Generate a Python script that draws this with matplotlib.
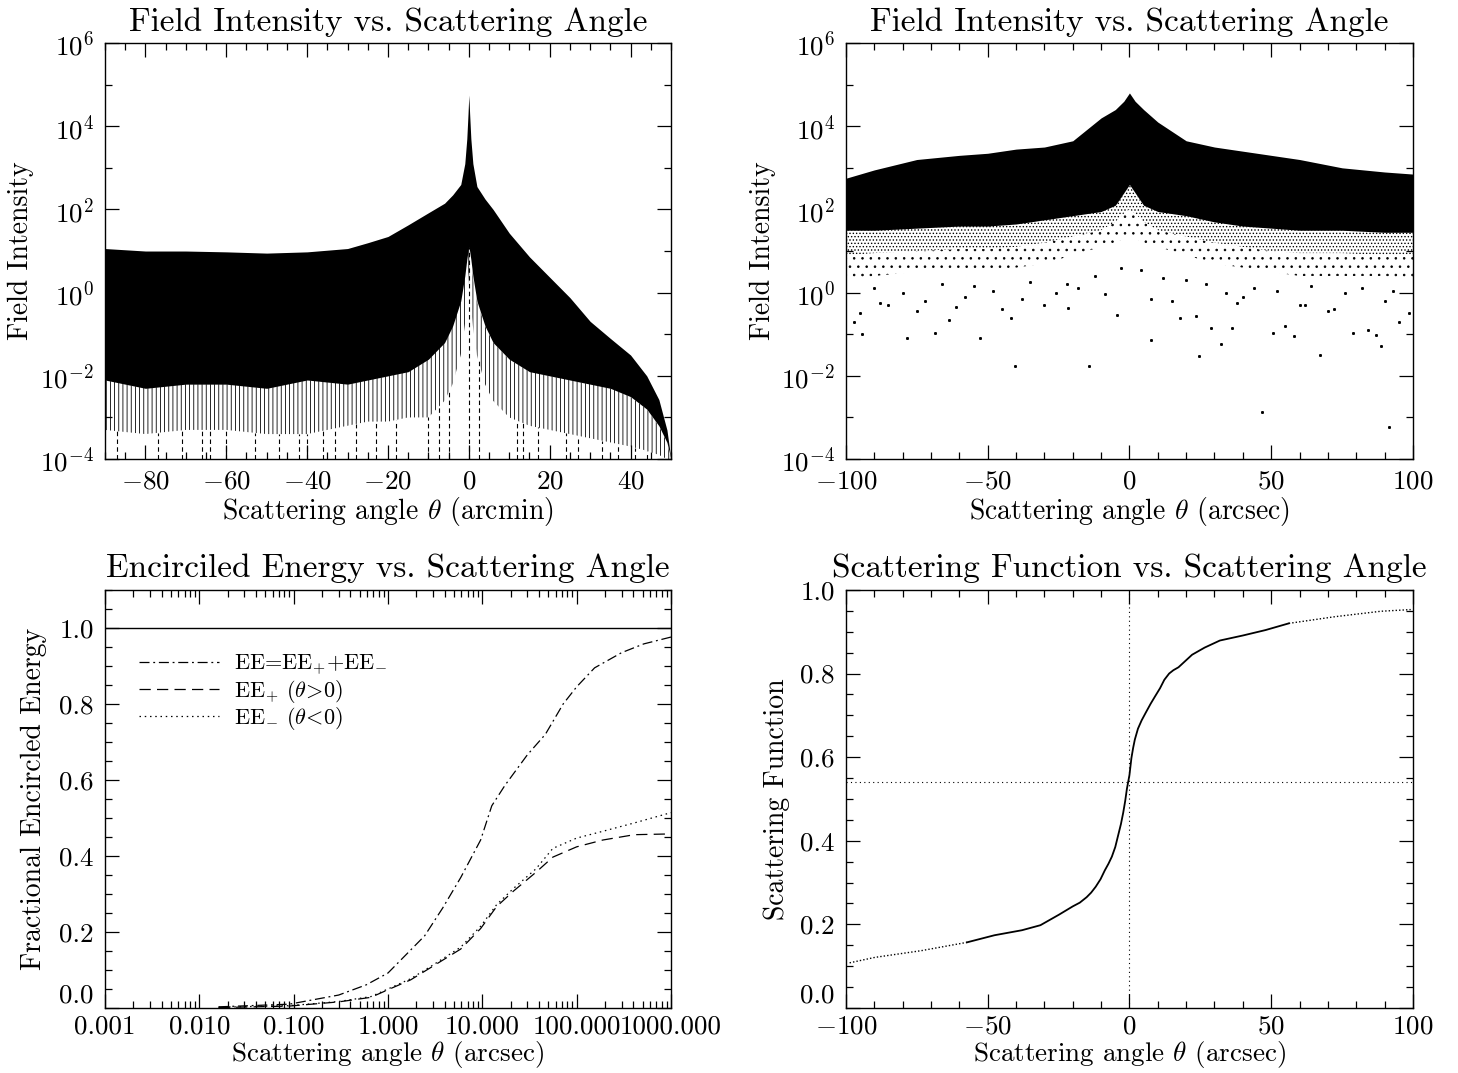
import numpy as np
import matplotlib
matplotlib.use("Agg")
import matplotlib.pyplot as plt
from matplotlib.ticker import FixedLocator, FixedFormatter, NullFormatter

plt.rcParams['font.family'] = ['cmr10', 'DejaVu Serif']
plt.rcParams['mathtext.fontset'] = 'cm'
plt.rcParams['axes.unicode_minus'] = False
plt.rcParams['hatch.linewidth'] = 0.6

# ---------------- Data: top-left (arcmin) envelopes, log10 intensity ----------------
tl_x = [-90, -80, -70, -60, -50, -40, -30, -25, -20, -15, -10, -6, -4, -2, -1, -0.5, -0.2, 0,
        0.2, 0.5, 1, 2, 4, 6, 10, 15, 20, 25, 30, 35, 40, 44, 47, 49, 50]
tl_upper = [1.06, 1.0, 1.0, 0.98, 0.95, 0.98, 1.06, 1.2, 1.35, 1.63, 1.92, 2.15, 2.35, 2.6, 3.1, 3.7, 4.3, 4.75,
            4.3, 3.7, 3.1, 2.55, 2.25, 2.0, 1.43, 0.86, 0.37, -0.12, -0.69, -1.1, -1.5, -2.0, -2.57, -3.3, -4.0]
tl_lower = [-2.1, -2.3, -2.2, -2.2, -2.3, -2.1, -2.2, -2.1, -2.0, -1.9, -1.6, -1.2, -0.8, -0.2, 0.4, 0.8, 1.0, 1.1,
            1.0, 0.8, 0.4, -0.2, -0.8, -1.2, -1.6, -1.9, -2.0, -2.1, -2.2, -2.3, -2.5, -2.8, -3.2, -3.6, -4.0]
tl_fringe = [-3.3, -3.4, -3.3, -3.3, -3.4, -3.4, -3.2, -3.1, -3.1, -3.0, -3.0, -2.6, -2.2, -1.5, -0.8, -0.3, 0.2, 0.5,
             0.2, -0.3, -0.8, -1.5, -2.2, -2.6, -3.0, -3.2, -3.3, -3.4, -3.5, -3.6, -3.7, -3.8, -3.9, -4.0, -4.0]
tl_spikes_x = [-87, -77, -71, -66, -64, -60, -53, -47, -42, -40, -36, -33, -28, -23, -18, -10, -7.5, -5,
               0, 2.4, 12, 13.5, 17, 24, 27, 33, 37, 41, 44]

# ---------------- Data: top-right (arcsec) ----------------
tr_x = [-100, -90, -75, -60, -50, -40, -30, -20, -10, -5, -2, 0, 2, 5, 10, 20, 30, 40, 50, 60, 75, 90, 100]
tr_upper = [2.75, 2.95, 3.2, 3.3, 3.35, 3.45, 3.5, 3.65, 4.2, 4.4, 4.6, 4.8, 4.6, 4.4, 4.1, 3.65, 3.5, 3.4, 3.3,
            3.2, 3.0, 2.9, 2.85]
tr_dense = [1.5, 1.5, 1.55, 1.6, 1.6, 1.65, 1.75, 1.85, 1.95, 2.1, 2.4, 2.6, 2.4, 2.1, 1.95, 1.85, 1.7, 1.6, 1.55,
            1.5, 1.5, 1.45, 1.45]
tr_mid = [0.9, 0.95, 1.0, 1.05, 1.05, 1.1, 1.2, 1.35, 1.5, 1.7, 1.9, 2.0, 1.9, 1.7, 1.5, 1.35, 1.2, 1.1, 1.0,
          0.95, 0.95, 0.9, 0.9]
tr_speckle = [0.3, 0.4, 0.5, 0.5, 0.5, 0.6, 0.7, 0.9, 1.1, 1.2, 1.3, 1.4, 1.3, 1.2, 1.1, 0.9, 0.7, 0.6, 0.5,
              0.4, 0.4, 0.4, 0.3]
tr_pts_x = [-40.2, -14.3, 46.6, 91.6, 24.7, 67.3, 32.3, 88.7, -78.3, -52.7, 7.6, -94.2, -68.6, 50.6, 57.9, 79.0,
            87.0, -63.7, -41.8, -4.5, -21.6, 7.6, 23.5, 28.7, 36.0, 98.5, -94.9, -8.6, -85, -72, -58, -30,
            -18, 15, 40, 62, 72, 95, -97, -45, -26, 18, 55, 84, -90, -80, -66, -55, -48, -35, -12, -3, 4,
            12, 27, 34, 44, 52, 64, 76, 82, 93, -88, -75, -61, -38, -22, 20, 38, 60, 70, 90]
tr_pts_y = [-1.77, -1.76, -2.88, -3.24, -1.53, -1.51, -1.23, -1.28, -1.10, -1.09, -1.14, -1.00, -0.96, -0.98,
            -1.04, -0.98, -1.02, -0.65, -0.61, -0.53, -0.38, -0.15, -0.57, -0.86, -0.86, -0.49, -0.49, -0.04,
            -0.3, -0.2, -0.1, -0.3, 0.1, -0.2, -0.1, -0.3, -0.4, -0.7, -0.7, -0.4, 0.0, -0.6, -0.8, -0.9,
            0.1, 0.0, 0.2, 0.15, 0.05, 0.25, 0.4, 0.6, 0.55, 0.35, 0.2, 0.0, 0.1, 0.05, 0.15, 0.0, 0.1, 0.05,
            -0.25, -0.45, -0.35, -0.15, 0.2, 0.3, -0.25, -0.3, -0.45, -0.2]

# ---------------- Data: bottom-left (encircled energy) ----------------
ee_x = [0.016, 0.09, 0.3, 0.59, 1.0, 1.58, 2.45, 3.8, 5.9, 9.6, 12.6, 17.4, 30, 46.6, 72, 100, 155, 300, 515, 1000]
ee_tot = [0.003, 0.01, 0.034, 0.061, 0.092, 0.142, 0.19, 0.263, 0.343, 0.442, 0.532, 0.586, 0.666, 0.72, 0.80,
          0.845, 0.895, 0.935, 0.958, 0.976]
eep_x = [0.016, 0.09, 0.3, 0.66, 1.0, 1.74, 3.0, 5.9, 9.6, 14.2, 21.5, 37, 56, 100, 190, 410, 1000]
ee_plus = [0.001, 0.005, 0.016, 0.028, 0.048, 0.074, 0.11, 0.155, 0.209, 0.267, 0.308, 0.357, 0.397, 0.424,
           0.442, 0.456, 0.458]
ee_minus = [0.002, 0.006, 0.017, 0.030, 0.050, 0.077, 0.113, 0.16, 0.215, 0.272, 0.315, 0.366, 0.42, 0.447,
            0.465, 0.487, 0.514]

# ---------------- Data: bottom-right (scattering function) ----------------
sf_x = [-98.7, -89.8, -73.5, -57.3, -47.6, -37.9, -31.4, -24.9, -20, -17.5, -15.1, -13.5, -11.9, -10.2, -8.7,
        -7.4, -6.2, -5.0, -3.8, -3.0, -2.2, -1.5, -0.9, 0, 0.7, 1.3, 1.9, 3.0, 4.3, 5.8, 7.5, 9.0, 10.8, 12.3,
        14, 15.5, 17.3, 22.1, 26.5, 31.9, 40, 48, 56.2, 72.5, 88.7, 99.2]
sf_y = [0.108, 0.121, 0.137, 0.157, 0.174, 0.186, 0.198, 0.223, 0.243, 0.252, 0.265, 0.276, 0.29, 0.308, 0.329,
        0.345, 0.362, 0.385, 0.418, 0.44, 0.467, 0.495, 0.524, 0.557, 0.598, 0.622, 0.642, 0.668, 0.688, 0.707,
        0.728, 0.745, 0.765, 0.785, 0.80, 0.808, 0.815, 0.845, 0.862, 0.879, 0.891, 0.904, 0.92, 0.936,
        0.949, 0.953]
sf_median = 0.54

TITLE_FS = 24
LABEL_FS = 20
TICK_FS = 19.5

fig = plt.figure(figsize=(14.58, 10.73), dpi=100)
ax_tl = fig.add_axes([0.0720, 0.5722, 0.3882, 0.3877])
ax_tr = fig.add_axes([0.5802, 0.5722, 0.3889, 0.3877])
ax_bl = fig.add_axes([0.0720, 0.0606, 0.3882, 0.3896])
ax_br = fig.add_axes([0.5802, 0.0606, 0.3889, 0.3896])


def style(ax, xpad=8):
    ax.tick_params(which='both', direction='in', top=True, right=True, labelsize=TICK_FS, pad=8)
    ax.tick_params(axis='x', which='both', pad=xpad)
    ax.tick_params(which='major', length=10, width=0.9)
    ax.tick_params(which='minor', length=5, width=0.9)
    for s in ax.spines.values():
        s.set_linewidth(1.0)


def raise_first_ylabel(ax):
    # the lowest y tick label sits above the axis corner, as in the original
    ax.yaxis.get_major_ticks()[0].label1.set_verticalalignment('bottom')


def log_y(ax):
    ax.set_yscale('log')
    ax.set_ylim(1e-4, 1e6)
    maj = [1e-4, 1e-2, 1e0, 1e2, 1e4, 1e6]
    ax.yaxis.set_major_locator(FixedLocator(maj))
    ax.yaxis.set_major_formatter(FixedFormatter([r'$10^{-4}$', r'$10^{-2}$', r'$10^{0}$', r'$10^{2}$',
                                                 r'$10^{4}$', r'$10^{6}$']))
    ax.yaxis.set_minor_locator(FixedLocator([1e-3, 1e-1, 1e1, 1e3, 1e5]))
    ax.yaxis.set_minor_formatter(NullFormatter())


def labels(ax, title, xlabel, ylabel, ycoord, xpad, lfs=LABEL_FS):
    ax.set_title(title, fontsize=TITLE_FS, pad=9)
    ax.set_xlabel(xlabel, fontsize=lfs, labelpad=xpad)
    ax.set_ylabel(ylabel, fontsize=LABEL_FS)
    ax.yaxis.set_label_coords(ycoord, 0.5)


# ---- top-left
ax = ax_tl
x = np.array(tl_x)
up = 10 ** np.array(tl_upper)
lo = 10 ** np.array(tl_lower)
fr = 10 ** np.array(tl_fringe)
ax.fill_between(x, fr, lo, facecolor='white', edgecolor='black', hatch='||||', linewidth=0)
ax.fill_between(x, lo, up, color='black', linewidth=0)
for sx in tl_spikes_x:
    top = 10 ** np.interp(sx, tl_x, tl_fringe)
    if sx == 0:
        top = 10 ** np.interp(sx, tl_x, tl_lower)
    ax.plot([sx, sx], [1e-4, top], color='black', lw=0.8, ls=(0, (4, 3)))
log_y(ax)
ax.set_xlim(-90, 50)
ax.xaxis.set_major_locator(FixedLocator([-80, -60, -40, -20, 0, 20, 40]))
ax.xaxis.set_major_formatter(FixedFormatter([r'$-80$', r'$-60$', r'$-40$', r'$-20$', r'$0$', r'$20$', r'$40$']))
ax.xaxis.set_minor_locator(FixedLocator(np.arange(-90, 51, 5)))
style(ax)
labels(ax, 'Field Intensity vs. Scattering Angle', r'Scattering angle $\theta$ (arcmin)', 'Field Intensity',
       -0.125, 1)

# ---- top-right
ax = ax_tr
x = np.array(tr_x)
ax.fill_between(x, 10 ** np.array(tr_speckle), 10 ** np.array(tr_mid), facecolor='white', edgecolor='black',
                hatch='..', linewidth=0)
ax.fill_between(x, 10 ** np.array(tr_mid), 10 ** np.array(tr_dense), facecolor='white', edgecolor='black',
                hatch='.....', linewidth=0)
ax.fill_between(x, 10 ** np.array(tr_dense), 10 ** np.array(tr_upper), color='black', linewidth=0)
ax.plot(tr_pts_x, 10 ** np.array(tr_pts_y), ls='none', marker='s', ms=1.1, color='black')
log_y(ax)
ax.set_xlim(-100, 100)
ax.xaxis.set_major_locator(FixedLocator([-100, -50, 0, 50, 100]))
ax.xaxis.set_major_formatter(FixedFormatter([r'$-100$', r'$-50$', r'$0$', r'$50$', r'$100$']))
ax.xaxis.set_minor_locator(FixedLocator(np.arange(-100, 101, 10)))
style(ax)
labels(ax, 'Field Intensity vs. Scattering Angle', r'Scattering angle $\theta$ (arcsec)', 'Field Intensity',
       -0.123, 1)

# ---- bottom-left
ax = ax_bl
ax.axhline(1.0, color='black', lw=1.0)
ax.plot(ee_x, ee_tot, color='black', lw=0.9, ls=(0, (8, 3, 1.5, 3)), label=r'EE=EE$_{+}$+EE$_{-}$')
ax.plot(eep_x, ee_plus, color='black', lw=0.9, ls=(0, (9, 5)), label=r'EE$_{+}$ $(\theta\!>\!0)$')
ax.plot(eep_x, ee_minus, color='black', lw=0.9, ls=(0, (1.2, 3)), label=r'EE$_{-}$ $(\theta\!<\!0)$')
ax.set_xscale('log')
ax.set_xlim(0.001, 1000)
ax.set_ylim(0, 1.1)
ax.xaxis.set_major_locator(FixedLocator([0.001, 0.01, 0.1, 1, 10, 100, 1000]))
ax.xaxis.set_major_formatter(FixedFormatter(['0.001', '0.010', '0.100', '1.000', '10.000', '100.000',
                                             '1000.000']))
ax.xaxis.set_minor_locator(FixedLocator([m * 10.0 ** e for e in range(-3, 3) for m in range(2, 10)]))
ax.xaxis.set_minor_formatter(NullFormatter())
ax.yaxis.set_major_locator(FixedLocator([0, 0.2, 0.4, 0.6, 0.8, 1.0]))
ax.yaxis.set_major_formatter(FixedFormatter(['0.0', '0.2', '0.4', '0.6', '0.8', '1.0']))
ax.yaxis.set_minor_locator(FixedLocator(np.arange(0, 1.11, 0.05)))
style(ax, xpad=5)
raise_first_ylabel(ax)
ax.legend(loc='upper left', bbox_to_anchor=(0.06, 0.85), frameon=False, fontsize=16, handlelength=3.6,
          handletextpad=0.7, labelspacing=0.0, borderaxespad=0, borderpad=0)
labels(ax, 'Encirciled Energy vs. Scattering Angle', r'Scattering angle $\theta$ (arcsec)',
       'Fractional Encircled Energy', -0.102, 0, 19.5)

# ---- bottom-right
ax = ax_br
sx = np.array(sf_x)
sy = np.array(sf_y)
mid = (sx >= -58) & (sx <= 57)
ax.plot(sx[mid], sy[mid], color='black', lw=1.3)
left = sx <= -57
right = sx >= 56
ax.plot(sx[left], sy[left], color='black', lw=1.0, ls=(0, (1, 1.5)))
ax.plot(sx[right], sy[right], color='black', lw=1.0, ls=(0, (1, 1.5)))
ax.axvline(0, color='black', lw=0.8, ls=(0, (1, 3)))
ax.axhline(sf_median, color='black', lw=0.8, ls=(0, (1, 3)))
ax.set_xlim(-100, 100)
ax.set_ylim(0, 1.0)
ax.xaxis.set_major_locator(FixedLocator([-100, -50, 0, 50, 100]))
ax.xaxis.set_major_formatter(FixedFormatter([r'$-100$', r'$-50$', r'$0$', r'$50$', r'$100$']))
ax.xaxis.set_minor_locator(FixedLocator(np.arange(-100, 101, 10)))
ax.yaxis.set_major_locator(FixedLocator([0, 0.2, 0.4, 0.6, 0.8, 1.0]))
ax.yaxis.set_major_formatter(FixedFormatter(['0.0', '0.2', '0.4', '0.6', '0.8', '1.0']))
ax.yaxis.set_minor_locator(FixedLocator(np.arange(0, 1.01, 0.05)))
style(ax, xpad=5)
raise_first_ylabel(ax)
labels(ax, 'Scattering Function vs. Scattering Angle', r'Scattering angle $\theta$ (arcsec)',
       'Scattering Function', -0.099, 0, 19.5)

fig.savefig('out.png', dpi=100)
